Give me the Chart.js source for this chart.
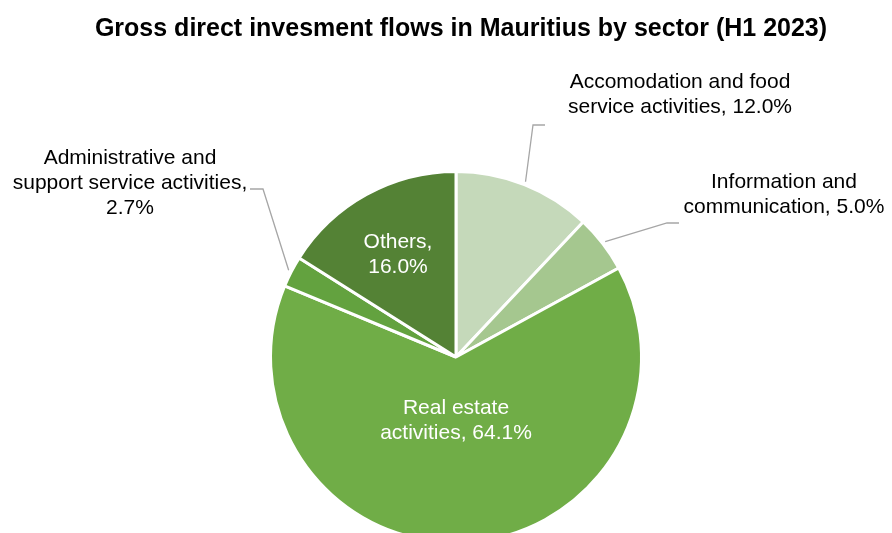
<!DOCTYPE html>
<html>
<head>
<meta charset="utf-8">
<script src="https://cdn.jsdelivr.net/npm/chart.js@4.4.0/dist/chart.umd.min.js"></script>
<style>
    html, body { margin: 0; padding: 0; background: #ffffff; overflow: hidden; }
    #wrap { width: 892px; height: 560px; }
</style>
</head>
<body>
<div id="wrap"><canvas id="sectorPie"></canvas></div>
<script>
// Sector shares of gross direct investment flows, H1 2023 (%)
const sectors = [
    'Accomodation and food service activities',
    'Information and communication',
    'Real estate activities',
    'Administrative and support service activities',
    'Others'
];
const shares = [12.0, 5.0, 64.1, 2.7, 16.0];

// How each label is wrapped; {v} is replaced by the share
const labelLines = [
    ['Accomodation and food', 'service activities, {v}'],
    ['Information and', 'communication, {v}'],
    ['Real estate', 'activities, {v}'],
    ['Administrative and', 'support service activities,', '{v}'],
    ['Others,', '{v}']
];

const sliceColors = ['#c5d9ba', '#a5c78f', '#70ad47', '#63a23f', '#548235'];

// Label placement: inside labels are white text on the slice,
// outside labels get an elbow leader line
const labelStyle = [
    { outside: true, elbow: [533, 125], end: [545, 125], text: [680, 82] },
    { outside: true, elbow: [667, 223], end: [679, 223], text: [784, 182] },
    { outside: false, text: [456, 408] },
    { outside: true, elbow: [263, 189], end: [250, 189], text: [130, 158] },
    { outside: false, text: [398, 242] }
];

const TITLE = 'Gross direct invesment flows in Mauritius by sector (H1 2023)';

const pieLabels = {
    id: 'pieLabels',
    afterDraw(chart) {
        const ctx = chart.ctx;
        const meta = chart.getDatasetMeta(0);

        // Title
        ctx.save();
        ctx.fillStyle = '#000000';
        ctx.font = 'bold 25px "Liberation Sans", Arial, sans-serif';
        ctx.textAlign = 'center';
        ctx.textBaseline = 'middle';
        ctx.fillText(TITLE, 461, 29);
        ctx.restore();

        meta.data.forEach((arc, i) => {
            const st = labelStyle[i];
            const value = shares[i].toFixed(1) + '%';
            const lines = labelLines[i].map(l => l.replace('{v}', value));

            ctx.save();
            if (st.outside) {
                // leader line starts just outside the slice, at its mid angle
                const mid = (arc.startAngle + arc.endAngle) / 2;
                const r = arc.outerRadius + 3;
                const sx = arc.x + Math.cos(mid) * r;
                const sy = arc.y + Math.sin(mid) * r;
                ctx.strokeStyle = '#a6a6a6';
                ctx.lineWidth = 1.3;
                ctx.beginPath();
                ctx.moveTo(sx, sy);
                ctx.lineTo(st.elbow[0], st.elbow[1]);
                ctx.lineTo(st.end[0], st.end[1]);
                ctx.stroke();
                ctx.fillStyle = '#000000';
            } else {
                ctx.fillStyle = '#ffffff';
            }
            ctx.font = '21px "Liberation Sans", Arial, sans-serif';
            ctx.textAlign = 'center';
            ctx.textBaseline = 'middle';
            lines.forEach((line, k) => {
                ctx.fillText(line, st.text[0], st.text[1] + k * 25);
            });
            ctx.restore();
        });
    }
};

new Chart(document.getElementById('sectorPie'), {
    type: 'pie',
    data: {
        labels: sectors,
        datasets: [{
            data: shares,
            backgroundColor: sliceColors,
            borderColor: '#ffffff',
            borderWidth: 3
        }]
    },
    options: {
        responsive: true,
        maintainAspectRatio: false,
        animation: false,
        layout: {
            padding: { top: 170, bottom: 16, left: 269, right: 249 }
        },
        plugins: {
            legend: { display: false },
            tooltip: { enabled: false },
            title: { display: false }
        }
    },
    plugins: [pieLabels]
});
</script>
</body>
</html>
